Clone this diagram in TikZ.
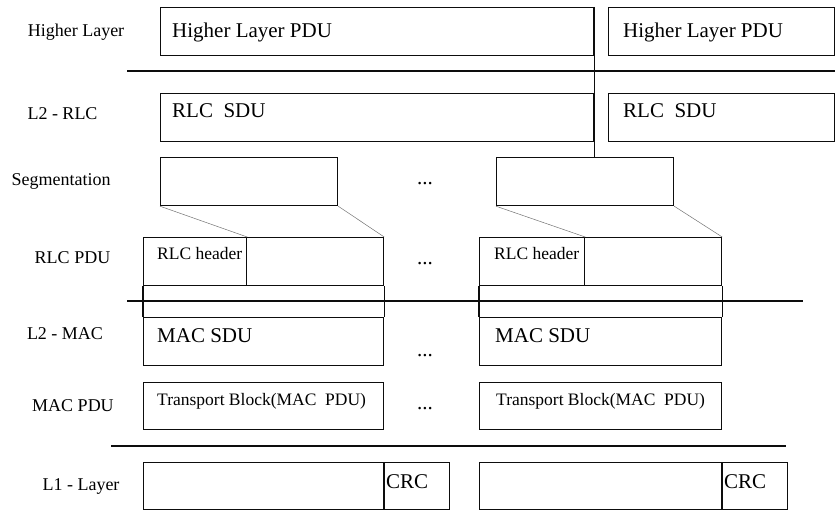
\documentclass[tikz,border=0pt]{standalone}
\usepackage{fontspec}
\setmainfont{Liberation Serif}
\usetikzlibrary{positioning}

\begin{document}
\begin{tikzpicture}[x=1pt,y=-1pt,
  pdubox/.style={draw=black!95, line width=1.2pt, inner sep=0pt, anchor=north west, minimum height=48pt},
  layertext/.style={font=\fontsize{18}{20}\selectfont, anchor=base, inner sep=0pt},
  boxtext/.style={font=\fontsize{21}{24}\selectfont, anchor=base west, inner sep=0pt},
  smalltext/.style={font=\fontsize{17.5}{20}\selectfont, anchor=base west, inner sep=0pt},
  dotstext/.style={font=\fontsize{21}{24}\selectfont, anchor=base, inner sep=0pt},
  layerline/.style={black!95, line width=1.2pt},
  segline/.style={black!55, line width=0.5pt}]
\useasboundingbox (0,0) rectangle (835,510);

% layer names
\node [layertext] (lblhigher) at (76,37)   {Higher Layer};
\node [layertext] (lblrlc)    at (62.5,120) {L2 - RLC};
\node [layertext] (lblseg)    at (61,186)  {Segmentation};
\node [layertext] (lblrlcpdu) at (72.5,264) {RLC PDU};
\node [layertext] (lblmac)    at (65,340)  {L2 - MAC};
\node [layertext] (lblmacpdu) at (73,411)  {MAC PDU};
\node [layertext] (lbll)      at (81,490)  {L1 - Layer};

% layer borders
\draw [layerline] (127,71)  -- (835,71);
\draw [layerline] (127,301) -- (803,301);
\draw [layerline] (111,446) -- (786,446);

% higher layer
\node [pdubox, minimum width=433pt] (hlpdua) at (160,7) {};
\node [pdubox, minimum width=226pt] (hlpdub) at (608,7) {};
\node [boxtext] (txthla) at (172,38) {Higher Layer PDU};
\node [boxtext] (txthlb) at (623,38) {Higher Layer PDU};

% rlc
\node [pdubox, minimum width=433pt] (rlcsdua) at (160,93) {};
\node [pdubox, minimum width=226pt] (rlcsdub) at (608,93) {};
\node [boxtext] (txtsdua) at (172,118) {RLC\ \ SDU};
\node [boxtext] (txtsdub) at (623,118) {RLC\ \ SDU};
\draw [layerline] (hlpdua.north east) -- (hlpdua.north east |- 0,157);

% segmentation
\node [pdubox, minimum width=177pt] (sega) at (160,157) {};
\node [pdubox, minimum width=177pt] (segb) at (496,157) {};

% rlc pdu
\node [pdubox, minimum width=240pt] (rlcpdua) at (143,237) {};
\node [pdubox, minimum width=103pt] (rlchdra) at (143,237) {};
\node [pdubox, minimum width=242pt] (rlcpdub) at (479,237) {};
\node [pdubox, minimum width=105pt] (rlchdrb) at (479,237) {};
\node [smalltext] (txthdra) at (157,260) {RLC header};
\node [smalltext] (txthdrb) at (494,260) {RLC header};
\draw [segline] (sega.south west) -- (rlchdra.north east);
\draw [segline] (sega.south east) -- (rlcpdua.north east);
\draw [segline] (segb.south west) -- (rlchdrb.north east);
\draw [segline] (segb.south east) -- (rlcpdub.north east);

% mac
\node [pdubox, minimum width=240pt] (macsdua) at (143,317) {};
\node [pdubox, minimum width=242pt] (macsdub) at (479,317) {};
\draw [layerline] (rlcpdua.south west) -- (macsdua.north west);
\draw [layerline] (rlcpdua.south east) -- (macsdua.north east);
\draw [layerline] (rlcpdub.south west) -- (macsdub.north west);
\draw [layerline] (rlcpdub.south east) -- (macsdub.north east);
\node [boxtext] (txtmaca) at (157,343) {MAC SDU};
\node [boxtext] (txtmacb) at (495,343) {MAC SDU};

\node [pdubox, minimum width=240pt, minimum height=47pt] (macpdua) at (143,382) {};
\node [pdubox, minimum width=242pt, minimum height=47pt] (macpdub) at (479,382) {};
\node [smalltext] (txttba) at (157,405) {Transport Block(MAC\ \ PDU)};
\node [smalltext] (txttbb) at (496,405) {Transport Block(MAC\ \ PDU)};

% l1
\node [pdubox, minimum width=240pt, minimum height=47pt] (lla) at (143,462) {};
\node [pdubox, minimum width=65pt, minimum height=47pt, right=0pt of lla] (crca) {};
\node [pdubox, minimum width=242pt, minimum height=47pt] (llb) at (479,462) {};
\node [pdubox, minimum width=65pt, minimum height=47pt, right=0pt of llb] (crcb) {};
\node [boxtext] (txtcrca) at (386,488) {CRC};
\node [boxtext] (txtcrcb) at (724,488) {CRC};

% more blocks
\foreach \y/\n in {185/seg,265/rlcpdu,356/macsdu,409/macpdu}
  \node [dotstext] (dots\n) at (425,\y) {...};
\end{tikzpicture}
\end{document}
